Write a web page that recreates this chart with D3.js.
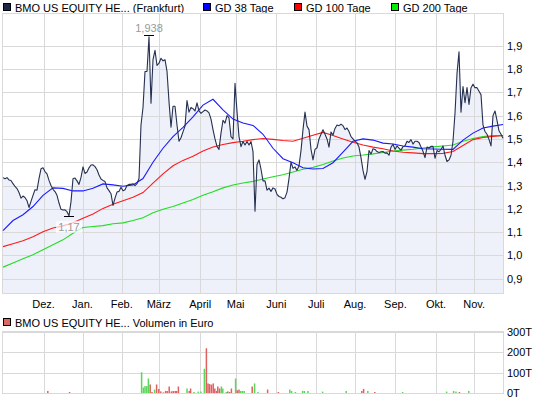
<!DOCTYPE html>
<html>
<head>
<meta charset="utf-8">
<script src="https://cdn.jsdelivr.net/npm/d3@7"></script>
<style>
  body { margin: 0; background: #fff; }
  text { font-family: "Liberation Sans", Arial, sans-serif; font-size: 11px; }
</style>
</head>
<body>
<div id="chart"></div>
<script>
// closing prices, one value per trading-day step
const price = [
  1.334, 1.329, 1.334, 1.324, 1.322, 1.308, 1.296, 1.287, 1.270, 1.246,
  1.255, 1.249, 1.235, 1.206, 1.232, 1.258, 1.282, 1.280, 1.330, 1.372,
  1.376, 1.360, 1.350, 1.322, 1.300, 1.284, 1.274, 1.258, 1.225, 1.198,
  1.195, 1.196, 1.188, 1.170, 1.231, 1.329, 1.332, 1.320, 1.305, 1.335,
  1.380, 1.352, 1.358, 1.376, 1.388, 1.389, 1.381, 1.368, 1.345, 1.328,
  1.322, 1.317, 1.290, 1.278, 1.265, 1.215, 1.246, 1.272, 1.275, 1.293,
  1.278, 1.282, 1.300, 1.305, 1.305, 1.308, 1.300, 1.308, 1.330, 1.560,
  1.635, 1.789, 1.790, 1.938, 1.653, 1.840, 1.880, 1.815, 1.825, 1.846,
  1.835, 1.840, 1.790, 1.660, 1.550, 1.640, 1.640, 1.560, 1.490, 1.505,
  1.530, 1.555, 1.665, 1.615, 1.635, 1.630, 1.620, 1.655, 1.620, 1.610,
  1.617, 1.624, 1.620, 1.612, 1.585, 1.540, 1.500, 1.468, 1.455, 1.525,
  1.580, 1.568, 1.600, 1.590, 1.510, 1.500, 1.739, 1.617, 1.510, 1.467,
  1.489, 1.474, 1.489, 1.474, 1.489, 1.446, 1.190, 1.390, 1.410, 1.370,
  1.320, 1.320, 1.280, 1.289, 1.275, 1.290, 1.285, 1.262, 1.253, 1.250,
  1.243, 1.248, 1.272, 1.330, 1.400, 1.374, 1.380, 1.365, 1.385, 1.450,
  1.540, 1.615, 1.555, 1.540, 1.455, 1.410, 1.455, 1.462, 1.500, 1.520,
  1.539, 1.520, 1.500, 1.465, 1.530, 1.517, 1.545, 1.560, 1.557, 1.563,
  1.557, 1.540, 1.547, 1.532, 1.510, 1.500, 1.490, 1.484, 1.465, 1.420,
  1.365, 1.327, 1.360, 1.450, 1.435, 1.458, 1.455, 1.446, 1.442, 1.445,
  1.446, 1.439, 1.440, 1.430, 1.465, 1.477, 1.455, 1.470, 1.460, 1.452,
  1.467, 1.471, 1.490, 1.485, 1.497, 1.478, 1.490, 1.490, 1.485, 1.465,
  1.447, 1.420, 1.465, 1.460, 1.468, 1.468, 1.417, 1.450, 1.445, 1.455,
  1.470, 1.430, 1.403, 1.410, 1.430, 1.490, 1.610, 1.780, 1.874, 1.615,
  1.725, 1.655, 1.720, 1.648, 1.720, 1.735, 1.720, 1.720, 1.705, 1.690,
  1.560, 1.532, 1.520, 1.498, 1.470, 1.600, 1.620, 1.580, 1.535, 1.520, 1.503
];

// moving averages, sampled every 5 trading-day steps
const maEvery = 5;
const gd38 = [
  1.107, 1.150, 1.175, 1.210, 1.258, 1.290, 1.288, 1.277, 1.277, 1.288,
  1.307, 1.303, 1.297, 1.303, 1.330, 1.400, 1.460, 1.510, 1.550, 1.595,
  1.645, 1.670, 1.625, 1.585, 1.568, 1.558, 1.520, 1.460, 1.415, 1.398,
  1.376, 1.371, 1.373, 1.398, 1.443, 1.490, 1.500, 1.495, 1.482, 1.478,
  1.470, 1.465, 1.458, 1.457, 1.456, 1.455, 1.495, 1.525, 1.547, 1.555, 1.562
];
const gd100 = [
  1.038, 1.050, 1.063, 1.080, 1.102, 1.118, 1.127, 1.140, 1.160, 1.178,
  1.202, 1.220, 1.235, 1.250, 1.270, 1.310, 1.350, 1.385, 1.408, 1.426,
  1.448, 1.465, 1.476, 1.484, 1.490, 1.497, 1.502, 1.498, 1.493, 1.490,
  1.503, 1.516, 1.528, 1.515, 1.500, 1.486, 1.474, 1.465, 1.458, 1.448,
  1.443, 1.440, 1.437, 1.437, 1.438, 1.446, 1.472, 1.497, 1.506, 1.511, 1.515
];
const gd200 = [
  0.950, 0.968, 0.986, 1.003, 1.025, 1.046, 1.067, 1.095, 1.120, 1.124,
  1.128, 1.136, 1.140, 1.150, 1.162, 1.183, 1.198, 1.210, 1.225, 1.240,
  1.258, 1.273, 1.290, 1.302, 1.311, 1.318, 1.328, 1.338, 1.346, 1.358,
  1.370, 1.378, 1.390, 1.405, 1.418, 1.427, 1.431, 1.436, 1.442, 1.448,
  1.452, 1.456, 1.461, 1.466, 1.470, 1.474, 1.490, 1.502, 1.510, 1.515, 1.514
];

// month starts (trading-day step) and labels
const monthPos = [20.3, 39.75, 59.4, 77.95, 98.6, 116.3, 136.65, 156.6, 176.05, 196.2, 216.5, 235.6];
const monthLabels = ['Dez.', 'Jan.', 'Feb.', 'März', 'April', 'Mai', 'Juni', 'Juli', 'Aug.', 'Sep.', 'Okt.', 'Nov.'];
const priceTicks = [0.9, 1.0, 1.1, 1.2, 1.3, 1.4, 1.5, 1.6, 1.7, 1.8, 1.9];

// volume (thousand euro); up = green bar
const volPos = [22.4, 33.3, 69.3, 70.2, 71, 71.9, 72.7, 73.6, 74.5, 75.8, 76.8, 77.9, 78.9, 80.2, 81.3, 82.1, 83.1, 84.2, 85.1, 86.1, 86.8, 87.7,
  92, 93.1, 93.8, 95.5, 97.6, 99, 100.7, 101.7, 102.5, 103.3, 104.2, 105.1, 105.9, 106.8, 107.4, 108.3, 109.2, 109.9, 111.6, 112.4, 113.3, 114.2,
  116.3, 117.1, 118, 118.9, 119.7, 120.6, 124.6, 125.8, 127.5, 132.3, 137.7, 143.4, 144.3, 146.2, 149.8, 150.7, 152.5, 159.8, 171.6,
  179.4, 180.3, 182.4, 185.9, 199.8, 221.8, 225.3, 226.5, 228.2, 232.9];
const volValue = [10, 5, 102, 27, 34, 34, 71, 42, 5, 17, 42, 20, 8, 3, 10, 10, 32, 8, 10, 10, 10, 32,
  22, 10, 22, 5, 7, 7, 119, 220, 47, 44, 41, 47, 22, 10, 32, 22, 32, 22, 5, 8, 5, 22,
  71, 14, 17, 10, 10, 10, 32, 47, 5, 17, 5, 17, 10, 5, 10, 10, 10, 7, 10,
  10, 20, 10, 5, 5, 7, 10, 7, 5, 10];
const volUp = [0, 0, 1, 1, 1, 1, 1, 0, 0, 1, 0, 0, 0, 0, 0, 0, 0, 0, 0, 0, 0, 0,
  1, 0, 0, 1, 1, 1, 1, 0, 0, 0, 0, 0, 0, 0, 0, 0, 1, 1, 1, 0, 0, 0,
  1, 0, 0, 1, 1, 1, 0, 1, 1, 0, 0, 1, 1, 1, 1, 1, 1, 1, 1,
  0, 0, 1, 0, 1, 1, 1, 1, 0, 1];
const volTicks = [0, 100, 200, 300];

const W = 545, H = 398;
const plot = { left: 3, right: 503, top: 14, bottom: 293 };
const vplot = { top: 332, bottom: 393 };

const svg = d3.select('#chart').append('svg')
  .attr('width', W).attr('height', H);

const x = d3.scaleLinear().domain([0, price.length - 1]).range([plot.left, plot.right]);
const y = d3.scaleLinear().domain([0.839, 2.036]).range([plot.bottom, plot.top]);
const yv = d3.scaleLinear().domain([0, 300]).range([vplot.bottom, vplot.top]);

const grid = '#d9d9d9';
const snap = v => Math.round(v) + 0.5;

// legend
const legend = [
  { label: 'BMO US EQUITY HE... (Frankfurt)', color: '#1c2848', x: 3 },
  { label: 'GD 38 Tage', color: '#0000ff', x: 203 },
  { label: 'GD 100 Tage', color: '#ff0000', x: 294 },
  { label: 'GD 200 Tage', color: '#00ee00', x: 391 }
];
const lg = svg.append('g').selectAll('g').data(legend).enter().append('g')
  .attr('transform', d => `translate(${d.x},3)`);
lg.append('rect').attr('x', 0.5).attr('y', 0.5).attr('width', 7).attr('height', 7)
  .attr('fill', d => d.color).attr('stroke', '#000');
lg.append('text').attr('x', 12).attr('y', 8.5).text(d => d.label);

// price area
const area = d3.area().x((d, i) => x(i)).y0(plot.bottom).y1(d => y(d));
svg.append('path').datum(price).attr('d', area).attr('fill', '#eef1fa');

// grid
const g = svg.append('g').attr('stroke', grid).attr('shape-rendering', 'crispEdges');
g.selectAll('.vg').data(monthPos).enter().append('line')
  .attr('x1', d => snap(x(d))).attr('x2', d => snap(x(d)))
  .attr('y1', plot.top).attr('y2', plot.bottom);
g.selectAll('.hg').data(priceTicks).enter().append('line')
  .attr('x1', plot.left).attr('x2', plot.right)
  .attr('y1', d => snap(y(d))).attr('y2', d => snap(y(d)));
g.append('rect').attr('x', plot.left - 0.5).attr('y', plot.top - 0.5)
  .attr('width', plot.right - plot.left + 1).attr('height', plot.bottom - plot.top + 1)
  .attr('fill', 'none');

// moving averages
const maLine = d3.line().x((d, i) => x(i * maEvery)).y(d => y(d));
[[gd200, '#22dd22'], [gd100, '#ff1a1a'], [gd38, '#1a1aff']].forEach(([s, c]) => {
  svg.append('path').datum(s).attr('d', maLine)
    .attr('fill', 'none').attr('stroke', c).attr('stroke-width', 1.1);
});

// price line
const line = d3.line().x((d, i) => x(i)).y(d => y(d));
svg.append('path').datum(price).attr('d', line)
  .attr('fill', 'none').attr('stroke', '#253050').attr('stroke-width', 1.1)
  .attr('stroke-linejoin', 'round');

// high / low markers
const fmt = v => d3.format('.3~f')(v).replace('.', ',');
const hi = d3.maxIndex(price), lo = d3.minIndex(price);
svg.append('line').attr('x1', x(hi) - 5).attr('x2', x(hi) + 5)
  .attr('y1', snap(y(price[hi]) - 2)).attr('y2', snap(y(price[hi]) - 2))
  .attr('stroke', '#000').attr('shape-rendering', 'crispEdges');
svg.append('text').attr('x', x(hi)).attr('y', y(price[hi]) - 5)
  .attr('text-anchor', 'middle').attr('fill', '#999').text(fmt(price[hi]));
svg.append('rect').attr('x', x(lo) - 13).attr('y', y(price[lo]) + 5)
  .attr('width', 26).attr('height', 12).attr('fill', '#fff').attr('opacity', 0.7);
svg.append('line').attr('x1', x(lo) - 5).attr('x2', x(lo) + 5)
  .attr('y1', snap(y(price[lo]))).attr('y2', snap(y(price[lo])))
  .attr('stroke', '#000').attr('shape-rendering', 'crispEdges');
svg.append('text').attr('x', x(lo)).attr('y', y(price[lo]) + 15)
  .attr('text-anchor', 'middle').attr('fill', '#999').text(fmt(price[lo]));

// y labels
svg.append('g').selectAll('text').data(priceTicks).enter().append('text')
  .attr('x', 507).attr('y', d => y(d) + 4).text(d => d.toFixed(1).replace('.', ','));

// month labels
svg.append('g').selectAll('text').data(monthPos).enter().append('text')
  .attr('x', d => x(d)).attr('y', 308).attr('text-anchor', 'middle')
  .text((d, i) => monthLabels[i]);

// volume panel
const vl = svg.append('g').attr('transform', 'translate(3,318)');
vl.append('rect').attr('x', 0.5).attr('y', 0.5).attr('width', 7).attr('height', 7)
  .attr('fill', '#e06666').attr('stroke', '#000');
vl.append('text').attr('x', 12).attr('y', 8.5).text('BMO US EQUITY HE... Volumen in Euro');

const vg = svg.append('g').attr('stroke', grid).attr('shape-rendering', 'crispEdges');
vg.selectAll('.vg').data(monthPos).enter().append('line')
  .attr('x1', d => snap(x(d))).attr('x2', d => snap(x(d)))
  .attr('y1', vplot.top).attr('y2', vplot.bottom);
vg.selectAll('.hg').data(volTicks).enter().append('line')
  .attr('x1', plot.left).attr('x2', plot.right)
  .attr('y1', d => snap(yv(d))).attr('y2', d => snap(yv(d)));
vg.append('rect').attr('x', plot.left - 0.5).attr('y', vplot.top - 0.5)
  .attr('width', plot.right - plot.left + 1).attr('height', vplot.bottom - vplot.top + 1)
  .attr('fill', 'none');

svg.append('g').selectAll('rect').data(volPos).enter().append('rect')
  .attr('x', d => x(d) - 0.75).attr('width', 1.5)
  .attr('y', (d, i) => yv(volValue[i]))
  .attr('height', (d, i) => yv(0) - yv(volValue[i]))
  .attr('fill', (d, i) => volUp[i] ? '#5ad65a' : '#e06060');

svg.append('g').selectAll('text').data(volTicks).enter().append('text')
  .attr('x', 507).attr('y', d => yv(d) + 4).text(d => d + 'T');
</script>
</body>
</html>
